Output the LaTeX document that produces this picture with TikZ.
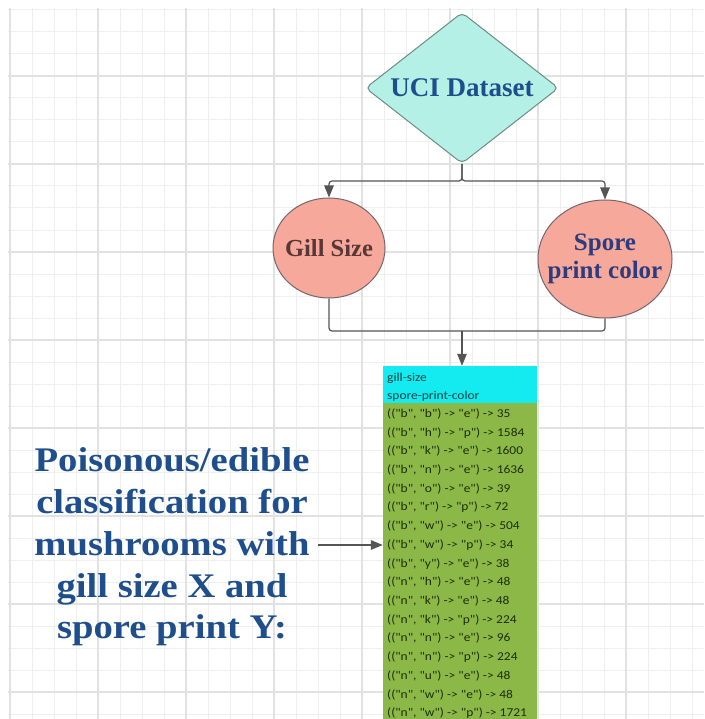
\documentclass[tikz,border=0pt]{standalone}
\usepackage{fontspec}
\setmainfont{Liberation Serif}
\newfontfamily\widefont[FakeStretch=1.12]{Liberation Serif}
\newfontfamily\tabfont[Ligatures=TeXOff,FakeStretch=1.12]{Carlito}
\usetikzlibrary{shapes.geometric,arrows.meta}
\definecolor{gridminor}{RGB}{239,239,239}
\definecolor{gridmajor}{RGB}{226,226,226}
\definecolor{diafill}{RGB}{180,240,230}
\definecolor{diaedge}{RGB}{110,140,135}
\definecolor{salmon}{RGB}{246,168,154}
\definecolor{ovaledge}{RGB}{120,100,110}
\definecolor{navy}{RGB}{31,78,140}
\definecolor{brownish}{RGB}{90,55,55}
\definecolor{sporeblue}{RGB}{45,60,125}
\definecolor{linegray}{RGB}{85,85,85}
\definecolor{cyanhdr}{RGB}{20,235,240}
\definecolor{greenbody}{RGB}{140,184,72}
\definecolor{rowtext}{RGB}{30,45,10}
\definecolor{hdrtext}{RGB}{25,65,65}
\begin{document}
\begin{tikzpicture}[x=1pt,y=-1pt,
  conn/.style={draw=linegray,line width=1.2pt,rounded corners=3pt},
  tip/.style={-{Triangle[length=12pt,width=9.5pt]}},
  shapebox/.style={line width=1pt,inner sep=0pt},
  rowtxt/.style={anchor=west,inner sep=0pt,font=\tabfont\fontsize{12}{12}\selectfont,text=rowtext},
  hdrtxt/.style={anchor=west,inner sep=0pt,font=\tabfont\fontsize{12}{12}\selectfont,text=hdrtext}]
\useasboundingbox (0,0) rectangle (704,719);
\fill[white] (0,0) rectangle (704,719);
% grid
\foreach \x in {10,32,...,692} \draw[gridminor,line width=1pt] (\x,8) -- (\x,719);
\foreach \y in {10,32,...,714} \draw[gridminor,line width=1pt] (8,\y) -- (704,\y);
\foreach \x in {10,98,...,626} \draw[gridmajor,line width=1.2pt] (\x,8) -- (\x,719);
\foreach \y in {76,164,...,692} \draw[gridmajor,line width=1.2pt] (8,\y) -- (704,\y);

% diamond
\node[diamond,shapebox,draw=diaedge,fill=diafill,minimum width=193pt,minimum height=151pt,rounded corners=5pt] (uci) at (462,88) {};
\node[text=navy,font=\fontsize{27}{30}\selectfont\bfseries,inner sep=0pt] (ucitxt) at (uci.center) {UCI Dataset};

% ellipses
\node[ellipse,shapebox,draw=ovaledge,fill=salmon,minimum width=112pt,minimum height=100pt] (gill) at (329,248) {};
\node[text=brownish,font=\fontsize{24.5}{28}\selectfont\bfseries,inner sep=0pt] (gilltxt) at (gill.center) {Gill Size};
\node[ellipse,shapebox,draw=ovaledge,fill=salmon,minimum width=134pt,minimum height=118pt] (spore) at (605,259) {};
\node[text=sporeblue,font=\fontsize{25}{28}\selectfont\bfseries,align=center,inner sep=0pt] (sporetxt) at (spore.center) {Spore\\print color};

% table
\node[fill=cyanhdr,minimum width=154pt,minimum height=37pt,inner sep=0pt] (hdr) at (460,384.5) {};
\node[fill=greenbody,minimum width=154pt,minimum height=320pt,inner sep=0pt,anchor=north] (body) at (hdr.south) {};
\node[hdrtxt] (h1) at (387,378) {gill-size};
\node[hdrtxt] (h2) at (387,396) {spore-print-color};
\foreach \t [count=\i from 0] in {
  {(("b", "b") -> "e") -> 35},
  {(("b", "h") -> "p") -> 1584},
  {(("b", "k") -> "e") -> 1600},
  {(("b", "n") -> "e") -> 1636},
  {(("b", "o") -> "e") -> 39},
  {(("b", "r") -> "p") -> 72},
  {(("b", "w") -> "e") -> 504},
  {(("b", "w") -> "p") -> 34},
  {(("b", "y") -> "e") -> 38},
  {(("n", "h") -> "e") -> 48},
  {(("n", "k") -> "e") -> 48},
  {(("n", "k") -> "p") -> 224},
  {(("n", "n") -> "e") -> 96},
  {(("n", "n") -> "p") -> 224},
  {(("n", "u") -> "e") -> 48},
  {(("n", "w") -> "e") -> 48},
  {(("n", "w") -> "p") -> 1721}}
  \node[rowtxt] (r\i) at (387,414+18.7*\i) {\t};

% connectors
\draw[conn,tip] (uci.south) -- ++(0,17) -| (gill.north);
\draw[conn,tip] (uci.south) -- ++(0,17) -| (spore.north);
\coordinate (merge) at (462,331);
\draw[conn] (gill.south) |- (merge);
\draw[conn] (spore.south) |- (merge);
\draw[conn,tip] (merge) -- (merge |- hdr.north);

% left caption
\node[text=navy,font=\widefont\fontsize{34.5}{41.7}\selectfont\bfseries,align=center,inner sep=0pt] (caption) at (172,547)
  {Poisonous/edible\\classification for\\mushrooms with\\gill size X and\\spore print Y:};
\coordinate (tx) at (318,545);
\draw[conn,tip] (tx) -- (tx -| body.west);
\end{tikzpicture}
\end{document}
